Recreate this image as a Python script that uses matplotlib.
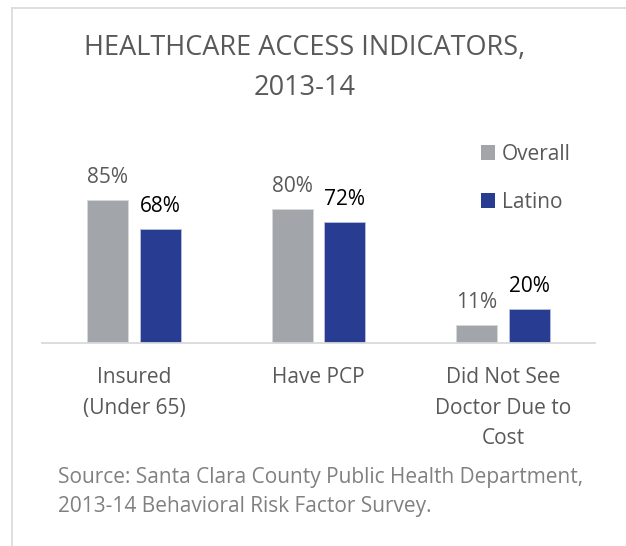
import numpy as np
import matplotlib.pyplot as plt
from matplotlib.patches import Patch
from matplotlib.lines import Line2D

categories = ["Insured\n(Under 65)", "Have PCP", "Did Not See\nDoctor Due to\nCost"]
overall = [85, 80, 11]
latino = [68, 72, 20]
series_names = ["Overall", "Latino"]

plt.rcParams['font.family'] = ['Open Sans', 'DejaVu Sans']

W, H = 626, 546
fig = plt.figure(figsize=(W / 100, H / 100), dpi=100)

# axes placed in pixel terms
left, right, base, top = 42, 595, 343, 140
ax = fig.add_axes([left / W, (H - base) / H, (right - left) / W, (base - top) / H])

x = np.arange(len(categories))
bw = 0.2225
off = 0.142
c_over = "#A2A5A9"
c_lat = "#283D91"
ax.bar(x - off, overall, bw, color=c_over, edgecolor="#D5D7DA", linewidth=0.6)
ax.bar(x + off, latino, bw, color=c_lat, edgecolor="#B8C0E0", linewidth=0.6)

ax.set_xlim(-0.5, 2.5)
ax.set_ylim(0, (base - top) / 1.68)

for xi, v in zip(x, overall):
    ax.annotate(f"{v}%", (xi - off, v), xytext=(0, 12), textcoords="offset pixels",
                ha="center", va="bottom", fontsize=15, color="#595959")
for xi, v in zip(x, latino):
    ax.annotate(f"{v}%", (xi + off, v), xytext=(0, 12), textcoords="offset pixels",
                ha="center", va="bottom", fontsize=15, color="#000000")

for s in ["left", "right", "top"]:
    ax.spines[s].set_visible(False)
ax.spines["bottom"].set_color("#D9D9D9")
ax.spines["bottom"].set_linewidth(1.3)
ax.set_yticks([])
ax.set_xticks(x)
ax.set_xticklabels(categories, fontsize=15, color="#595959", linespacing=1.62)
ax.tick_params(axis="x", length=0, pad=17)

# legend
handles = [Patch(facecolor=c_over, edgecolor="none"), Patch(facecolor=c_lat, edgecolor="none")]
leg = fig.legend(handles, series_names, loc="upper left", bbox_to_anchor=(462 / W, 1 - 125 / H),
                 frameon=False, fontsize=15, handlelength=0.7, handleheight=0.7,
                 handletextpad=0.3, labelspacing=1.3)
for t in leg.get_texts():
    t.set_color("#595959")

# title
fig.text(305 / W, 1 - 55 / H, "HEALTHCARE ACCESS INDICATORS,", ha="center", va="baseline",
         fontsize=19.5, color="#595959")
fig.text(305 / W, 1 - 95 / H, "2013-14", ha="center", va="baseline",
         fontsize=19.5, color="#595959")

# source
fig.text(58 / W, 1 - 483 / H, "Source: Santa Clara County Public Health Department,",
         ha="left", va="baseline", fontsize=15, color="#808080")
fig.text(58 / W, 1 - 512 / H, "2013-14 Behavioral Risk Factor Survey.",
         ha="left", va="baseline", fontsize=15, color="#808080")

# chart border (left and top edges visible)
fig.add_artist(Line2D([12 / W, 12 / W], [0, 1 - 8 / H], transform=fig.transFigure,
                      color="#D9D9D9", linewidth=1.2))
fig.add_artist(Line2D([12 / W, 1], [1 - 8 / H, 1 - 8 / H], transform=fig.transFigure,
                      color="#D9D9D9", linewidth=1.2))

fig.savefig("out.png", dpi=100)
